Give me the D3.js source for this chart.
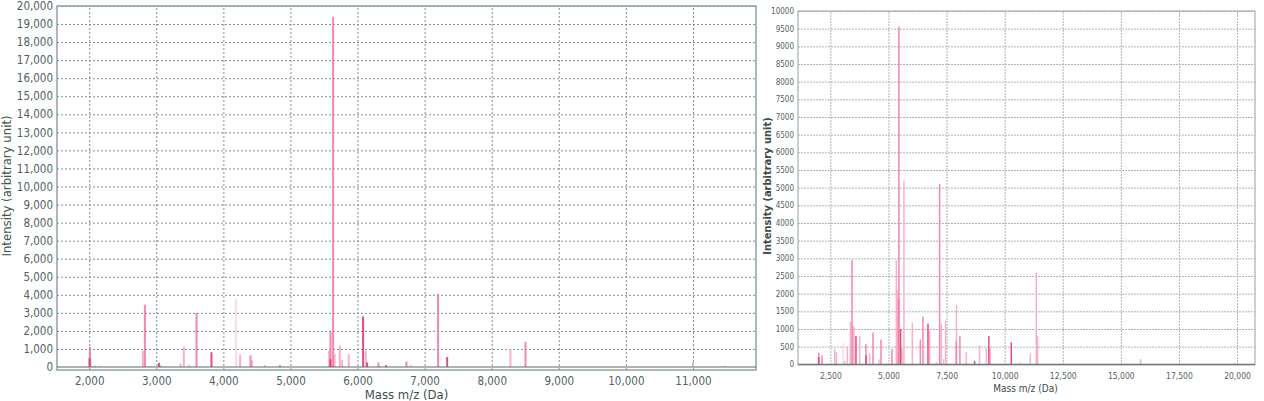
<!DOCTYPE html>
<html><head><meta charset="utf-8">
<script src="https://cdn.jsdelivr.net/npm/d3@7"></script>
<style>
html,body{margin:0;padding:0;background:#fff;}
svg{display:block;}
text{font-family:"DejaVu Sans Condensed","DejaVu Sans",sans-serif;}
</style></head>
<body>
<svg id="chart" width="1264" height="401"></svg>
<script>
// ---------- DATA ----------
// Left spectrum: [mass (Da), intensity]
const leftDark = [[2005,500],[3040,230],[3823,820],[4842,80],[5597,420],[6083,2800],[6143,250],[6426,100],[7336,550]];
const leftMedium = [[2010,1100],[2830,3450],[3600,3000],[4405,650],[5597,1950],[5636,19400],[6313,250],[6730,300],[7201,4050],[8504,1400]];
const leftLight = [[2020,350],[2085,80],[2150,50],[2800,900],[2900,50],[3070,100],[3362,190],[3411,1130],[3490,120],[4250,680],[4425,370],[4618,110],[5577,900],[5657,730],[5736,1200],[5770,400],[5870,700],[6124,900],[6794,100],[8280,1000],[11001,280],[11475,60]];
const leftPale = [[3150,50],[4186,3750]];
const leftXTicks = [2000,3000,4000,5000,6000,7000,8000,9000,10000,11000];
const leftYTicks = [0,1000,2000,3000,4000,5000,6000,7000,8000,9000,10000,11000,12000,13000,14000,15000,16000,17000,18000,19000,20000];

// Right spectrum: [mass (Da), intensity]
const rightDark = [[1997,200],[3601,800],[4031,250],[5523,1000],[6700,1150],[8706,100],[9320,800],[10285,620]];
const rightMedium = [[1997,330],[2139,250],[3430,2950],[4031,570],[4333,900],[4677,700],[5150,430],[5437,1850],[5450,9550],[6371,700],[6484,1350],[7200,5100],[7919,650],[8074,800]];
const rightLight = [[2685,430],[2758,350],[3115,100],[3230,500],[3360,1200],[3473,1090],[3516,1050],[3760,800],[4190,310],[4590,140],[5338,2950],[5381,2100],[5580,450],[5665,5200],[6027,1180],[6771,950],[7059,60],[7273,1150],[7373,150],[7459,1230],[7925,1690],[8349,350],[8921,540],[9209,450],[9381,450],[10671,50],[11101,310],[11360,2590],[11419,790],[15848,150],[19890,40]];
const rightPale = [[3042,600]];
const rightXTicks = [2500,5000,7500,10000,12500,15000,17500,20000];
const rightYTicks = d3.range(0, 10001, 500);

const seriesColors = {dark:"#e03a6c", medium:"#f27aa3", light:"#f7a9c6", pale:"#fbd5e4"};

// ---------- DRAW ----------
const svg = d3.select("#chart");

function panel(cfg){
  const g = svg.append("g");
  const x = d3.scaleLinear().domain(cfg.xDomain).range([cfg.left, cfg.right]);
  const y = d3.scaleLinear().domain(cfg.yDomain).range([cfg.bottom, cfg.top]);

  // grid
  const gy = g.append("g").attr("transform",`translate(${cfg.left},0)`)
    .call(d3.axisLeft(y).tickValues(cfg.yTicks).tickSize(-(cfg.right-cfg.left)).tickFormat(cfg.yFmt));
  gy.select(".domain").remove();
  gy.selectAll(".tick line").attr("stroke",cfg.gridColor).attr("stroke-dasharray",cfg.dash).attr("stroke-width",1)
    .filter(d=>d===0).remove();
  gy.selectAll(".tick text").attr("x",-4).attr("fill",cfg.textColor).style("font-size",cfg.yFont+"px");

  const gx = g.append("g").attr("transform",`translate(0,${cfg.axisY})`)
    .call(d3.axisBottom(x).tickValues(cfg.xTicks).tickSize(-(cfg.axisY-cfg.top)).tickFormat(d3.format(",")));
  gx.select(".domain").remove();
  gx.selectAll(".tick line").attr("stroke",cfg.gridColor).attr("stroke-dasharray",cfg.dash).attr("stroke-width",1);
  gx.selectAll(".tick text").attr("y",cfg.xLabelDy).attr("fill",cfg.textColor).style("font-size",cfg.xFont+"px");

  // bars
  const series = [["pale",cfg.pale],["light",cfg.light],["medium",cfg.medium],["dark",cfg.dark]];
  series.forEach(([k,data])=>{
    g.append("g").selectAll("rect").data(data).join("rect")
      .attr("x",d=>x(d[0])-cfg.barW/2)
      .attr("width",cfg.barW)
      .attr("y",d=>y(d[1]))
      .attr("height",d=>y(0)-y(d[1]))
      .attr("fill",seriesColors[k])
      .attr("fill-opacity",0.9);
  });

  // frame
  g.append("rect").attr("x",cfg.left).attr("y",cfg.top).attr("width",cfg.right-cfg.left).attr("height",cfg.axisY-cfg.top)
    .attr("fill","none").attr("stroke",cfg.frameColor).attr("stroke-width",cfg.frameW);
  g.append("line").attr("x1",cfg.left).attr("x2",cfg.right).attr("y1",y(0)).attr("y2",y(0))
    .attr("stroke",cfg.baseColor).attr("stroke-width",1.2);

  // titles
  g.append("text").attr("x",(cfg.left+cfg.right)/2 + cfg.xTitleShift).attr("y",cfg.xTitleY)
    .attr("text-anchor","middle").attr("fill",cfg.titleColor).style("font-size",cfg.titleFont+"px").text("Mass m/z (Da)");
  g.append("text").attr("transform",`translate(${cfg.yTitleX},${cfg.yTitleMid}) rotate(-90)`)
    .attr("text-anchor","middle").attr("fill",cfg.titleColor).style("font-size",cfg.yTitleFont+"px")
    .style("font-weight",cfg.yTitleWeight).text("Intensity (arbitrary unit)");
}

panel({
  xDomain:[1520,11940], yDomain:[0,20000],
  left:57, right:756, top:6, bottom:367, axisY:370,
  xTicks:leftXTicks, yTicks:leftYTicks, yFmt:d3.format(","),
  gridColor:"#7d8f9a", dash:"2,2", textColor:"#4f6360", titleColor:"#3e4f4c",
  frameColor:"#8ea39f", frameW:1.5, baseColor:"#5d6b69",
  yFont:11.5, xFont:11.5, xLabelDy:7, titleFont:13, yTitleFont:13, yTitleWeight:"normal",
  xTitleY:399, xTitleShift:0, yTitleX:11, yTitleMid:186,
  barW:2,
  dark:leftDark, medium:leftMedium, light:leftLight, pale:leftPale
});

panel({
  xDomain:[1106,20774], yDomain:[0,10000],
  left:798, right:1255, top:11, bottom:364.3, axisY:365,
  xTicks:rightXTicks, yTicks:rightYTicks, yFmt:d3.format("d"),
  gridColor:"#a9b7b5", dash:"2,1", textColor:"#56625f", titleColor:"#3e4a48",
  frameColor:"#a5b2b0", frameW:1.2, baseColor:"#6d7775",
  yFont:8, xFont:8.5, xLabelDy:8, titleFont:10, yTitleFont:11, yTitleWeight:"bold",
  xTitleY:392, xTitleShift:-1, yTitleX:771, yTitleMid:186,
  barW:1.5,
  dark:rightDark, medium:rightMedium, light:rightLight, pale:rightPale
});
</script>
</body></html>
